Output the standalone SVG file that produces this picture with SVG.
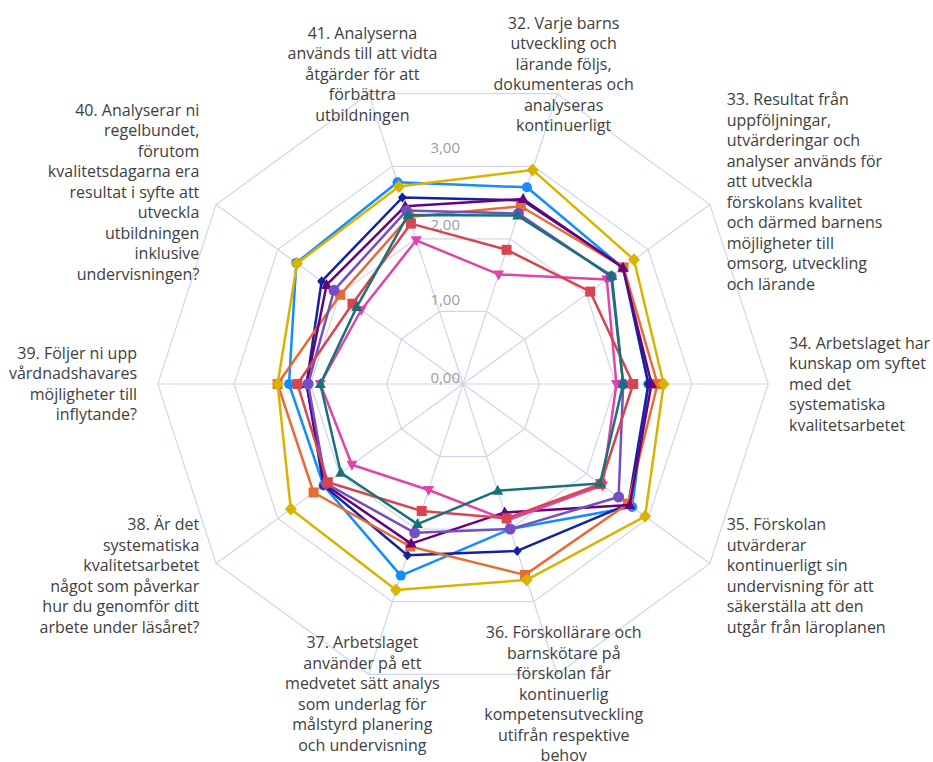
<svg xmlns="http://www.w3.org/2000/svg" width="933" height="762" viewBox="0 0 933 762">
<style>
.grid{fill:none;stroke:#cfd6ea;stroke-width:1.2}
.s{fill:none;stroke-width:2.5;stroke-linejoin:round}
.lbl{font-family:"Open Sans","Noto Sans",sans-serif;font-size:16px;fill:#3e3e3e}
.tick{font-family:"Open Sans","Noto Sans",sans-serif;font-size:15px;fill:#9c9c9c;text-anchor:end}
.mid{text-anchor:middle}.end{text-anchor:end}.start{text-anchor:start}
</style>
<defs>
<circle id="mc" r="5"/>
<circle id="mcl" r="5.5"/>
<rect id="ms" x="-5" y="-5" width="10" height="10"/>
<path id="mtu" d="M0,-6 L5.5,4 L-5.5,4Z"/>
<path id="mtd" d="M0,6 L5.5,-4 L-5.5,-4Z"/>
<path id="md" d="M0,-6.5 L6,0 L0,6.5 L-6,0Z"/>
<path id="mds" d="M0,-5 L4.5,0 L0,5 L-4.5,0Z"/>
</defs>
<rect width="933" height="762" fill="#ffffff"/>
<g id="grid">
<polygon class="grid" points="486.6,311.4 524.7,339.2 539.3,384 524.7,428.8 486.6,456.6 439.4,456.6 401.3,428.8 386.7,384 401.3,339.2 439.4,311.4"/>
<polygon class="grid" points="510.2,238.9 586.5,294.3 615.6,384 586.5,473.7 510.2,529.1 415.8,529.1 339.5,473.7 310.4,384 339.5,294.3 415.8,238.9"/>
<polygon class="grid" points="533.7,166.3 648.2,249.5 691.9,384 648.2,518.5 533.7,601.7 392.3,601.7 277.8,518.5 234.1,384 277.8,249.5 392.3,166.3"/>
<polygon class="grid" points="557.3,93.7 709.9,204.6 768.2,384 709.9,563.4 557.3,674.3 368.7,674.3 216.1,563.4 157.8,384 216.1,204.6 368.7,93.7"/>
<path class="grid" d="M463,384L557.3,93.7M463,384L709.9,204.6M463,384L768.2,384M463,384L709.9,563.4M463,384L557.3,674.3M463,384L368.7,674.3M463,384L216.1,563.4M463,384L157.8,384M463,384L216.1,204.6M463,384L368.7,93.7"/>
</g>
<g id="ticks">
<text class="tick" x="460" y="382.5">0,00</text>
<text class="tick" x="460" y="305">1,00</text>
<text class="tick" x="460" y="229.5">2,00</text>
<text class="tick" x="460" y="153">3,00</text>
</g>
<g id="series">
<g id="s-blue" fill="#118DFF">
<polygon class="s" stroke="#118DFF" points="526.9,187.3 622.9,267.8 648.4,384 632.1,506.9 510.2,529.1 400.8,575.6 323.5,485.4 289.0,384 296.3,262.9 397.5,182.3"/>
<use href="#mc" x="526.9" y="187.3"/><use href="#mc" x="622.9" y="267.8"/><use href="#mc" x="648.4" y="384"/><use href="#mc" x="632.1" y="506.9"/><use href="#mc" x="510.2" y="529.1"/><use href="#mc" x="400.8" y="575.6"/><use href="#mc" x="323.5" y="485.4"/><use href="#mc" x="289.0" y="384"/><use href="#mc" x="296.3" y="262.9"/><use href="#mc" x="397.5" y="182.3"/>
</g>
<g id="s-darkblue" fill="#12239E">
<polygon class="s" stroke="#12239E" points="522.7,200.4 623.5,267.4 648.4,384 628.4,504.2 517.2,550.9 407.4,555.3 323.5,485.4 306.6,384 321.6,281.3 402.4,197.5"/>
<use href="#mds" x="522.7" y="200.4"/><use href="#mds" x="623.5" y="267.4"/><use href="#mds" x="648.4" y="384"/><use href="#mds" x="628.4" y="504.2"/><use href="#mds" x="517.2" y="550.9"/><use href="#mds" x="407.4" y="555.3"/><use href="#mds" x="323.5" y="485.4"/><use href="#mds" x="306.6" y="384"/><use href="#mds" x="321.6" y="281.3"/><use href="#mds" x="402.4" y="197.5"/>
</g>
<g id="s-orange" fill="#E66C37">
<polygon class="s" stroke="#E66C37" points="520.8,206.2 623.5,267.4 657.6,384 627.8,503.7 525.0,574.9 410.2,546.5 313.6,492.5 277.6,384 340.2,294.8 408.8,217.1"/>
<use href="#ms" x="520.8" y="206.2"/><use href="#ms" x="623.5" y="267.4"/><use href="#ms" x="657.6" y="384"/><use href="#ms" x="627.8" y="503.7"/><use href="#ms" x="525.0" y="574.9"/><use href="#ms" x="410.2" y="546.5"/><use href="#ms" x="313.6" y="492.5"/><use href="#ms" x="277.6" y="384"/><use href="#ms" x="340.2" y="294.8"/><use href="#ms" x="408.8" y="217.1"/>
</g>
<g id="s-purple" fill="#6B007B">
<polygon class="s" stroke="#6B007B" points="523.1,199.0 622.9,267.8 651.5,384 629.7,505.1 504.7,512.4 411.1,543.6 324.7,484.5 306.6,384 326.6,284.9 405.2,206.2"/>
<use href="#mtu" x="523.1" y="199.0"/><use href="#mtu" x="622.9" y="267.8"/><use href="#mtu" x="651.5" y="384"/><use href="#mtu" x="629.7" y="505.1"/><use href="#mtu" x="504.7" y="512.4"/><use href="#mtu" x="411.1" y="543.6"/><use href="#mtu" x="324.7" y="484.5"/><use href="#mtu" x="306.6" y="384"/><use href="#mtu" x="326.6" y="284.9"/><use href="#mtu" x="405.2" y="206.2"/>
</g>
<g id="s-pink" fill="#E044A7">
<polygon class="s" stroke="#E044A7" points="498.6,274.4 606.8,279.5 616.4,384 602.5,485.4 507.3,520.4 428.6,490.0 351.9,464.7 320.3,384 361.2,310.0 416.3,240.3"/>
<use href="#mtd" x="498.6" y="274.4"/><use href="#mtd" x="606.8" y="279.5"/><use href="#mtd" x="616.4" y="384"/><use href="#mtd" x="602.5" y="485.4"/><use href="#mtd" x="507.3" y="520.4"/><use href="#mtd" x="428.6" y="490.0"/><use href="#mtd" x="351.9" y="464.7"/><use href="#mtd" x="320.3" y="384"/><use href="#mtd" x="361.2" y="310.0"/><use href="#mtd" x="416.3" y="240.3"/>
</g>
<g id="s-violet" fill="#744EC2">
<polygon class="s" stroke="#744EC2" points="518.4,213.5 611.1,276.4 623.2,384 618.6,497.0 510.2,529.1 414.7,532.8 326.0,483.6 308.1,384 334.0,290.3 406.6,210.6"/>
<use href="#mcl" x="518.4" y="213.5"/><use href="#mcl" x="611.1" y="276.4"/><use href="#mcl" x="623.2" y="384"/><use href="#mcl" x="618.6" y="497.0"/><use href="#mcl" x="510.2" y="529.1"/><use href="#mcl" x="414.7" y="532.8"/><use href="#mcl" x="326.0" y="483.6"/><use href="#mcl" x="308.1" y="384"/><use href="#mcl" x="334.0" y="290.3"/><use href="#mcl" x="406.6" y="210.6"/>
</g>
<g id="s-yellow" fill="#D9B300">
<polygon class="s" stroke="#D9B300" points="532.6,169.9 634.0,259.8 663.7,384 645.1,516.3 526.7,579.9 396.0,590.1 290.8,509.1 277.6,384 297.0,263.4 398.9,186.6"/>
<use href="#md" x="532.6" y="169.9"/><use href="#md" x="634.0" y="259.8"/><use href="#md" x="663.7" y="384"/><use href="#md" x="645.1" y="516.3"/><use href="#md" x="526.7" y="579.9"/><use href="#md" x="396.0" y="590.1"/><use href="#md" x="290.8" y="509.1"/><use href="#md" x="277.6" y="384"/><use href="#md" x="297.0" y="263.4"/><use href="#md" x="398.9" y="186.6"/>
</g>
<g id="s-red" fill="#D64550">
<polygon class="s" stroke="#D64550" points="506.6,249.8 590.2,291.6 633.2,384 600.7,484.0 506.6,518.3 421.7,511.0 327.8,482.2 297.4,384 352.5,303.7 410.9,223.6"/>
<use href="#ms" x="506.6" y="249.8"/><use href="#ms" x="590.2" y="291.6"/><use href="#ms" x="633.2" y="384"/><use href="#ms" x="600.7" y="484.0"/><use href="#ms" x="506.6" y="518.3"/><use href="#ms" x="421.7" y="511.0"/><use href="#ms" x="327.8" y="482.2"/><use href="#ms" x="297.4" y="384"/><use href="#ms" x="352.5" y="303.7"/><use href="#ms" x="410.9" y="223.6"/>
</g>
<g id="s-teal" fill="#197278">
<polygon class="s" stroke="#197278" points="517.7,215.6 611.8,275.9 623.2,384 600.0,483.6 497.7,490.7 417.5,524.1 340.8,472.8 320.3,384 356.8,306.9 408.1,214.9"/>
<use href="#mtu" x="517.7" y="215.6"/><use href="#mtu" x="611.8" y="275.9"/><use href="#mtu" x="623.2" y="384"/><use href="#mtu" x="600.0" y="483.6"/><use href="#mtu" x="497.7" y="490.7"/><use href="#mtu" x="417.5" y="524.1"/><use href="#mtu" x="340.8" y="472.8"/><use href="#mtu" x="320.3" y="384"/><use href="#mtu" x="356.8" y="306.9"/><use href="#mtu" x="408.1" y="214.9"/>
</g>
</g>
<g id="label-32"><text class="lbl mid" x="563.6">
<tspan x="563.6" y="28.5">32. Varje barns</tspan><tspan x="563.6" y="49">utveckling och</tspan><tspan x="563.6" y="69.5">lärande följs,</tspan><tspan x="563.6" y="90">dokumenteras och</tspan><tspan x="563.6" y="110.5">analyseras</tspan><tspan x="563.6" y="131">kontinuerligt</tspan></text></g>
<g id="label-33"><text class="lbl start">
<tspan x="726.7" y="105">33. Resultat från</tspan><tspan x="726.7" y="125.5">uppföljningar,</tspan><tspan x="726.7" y="146">utvärderingar och</tspan><tspan x="726.7" y="166.5">analyser används för</tspan><tspan x="726.7" y="187">att utveckla</tspan><tspan x="726.7" y="207.5">förskolans kvalitet</tspan><tspan x="726.7" y="228">och därmed barnens</tspan><tspan x="726.7" y="248.5">möjligheter till</tspan><tspan x="726.7" y="269">omsorg, utveckling</tspan><tspan x="726.7" y="289.5">och lärande</tspan></text></g>
<g id="label-34"><text class="lbl start">
<tspan x="789" y="348.5">34. Arbetslaget har</tspan><tspan x="789" y="369">kunskap om syftet</tspan><tspan x="789" y="389.5">med det</tspan><tspan x="789" y="410">systematiska</tspan><tspan x="789" y="430.5">kvalitetsarbetet</tspan></text></g>
<g id="label-35"><text class="lbl start">
<tspan x="726.7" y="530">35. Förskolan</tspan><tspan x="726.7" y="550.5">utvärderar</tspan><tspan x="726.7" y="571">kontinuerligt sin</tspan><tspan x="726.7" y="591.5">undervisning för att</tspan><tspan x="726.7" y="612">säkerställa att den</tspan><tspan x="726.7" y="632.5">utgår från läroplanen</tspan></text></g>
<g id="label-36"><text class="lbl mid">
<tspan x="563.7" y="638">36. Förskollärare och</tspan><tspan x="563.7" y="658.5">barnskötare på</tspan><tspan x="563.7" y="679">förskolan får</tspan><tspan x="563.7" y="699.5">kontinuerlig</tspan><tspan x="563.7" y="720">kompetensutveckling</tspan><tspan x="563.7" y="740.5">utifrån respektive</tspan><tspan x="563.7" y="761">behov</tspan></text></g>
<g id="label-37"><text class="lbl mid">
<tspan x="362.3" y="648.3">37. Arbetslaget</tspan><tspan x="362.3" y="668.8">använder på ett</tspan><tspan x="362.3" y="689.3">medvetet sätt analys</tspan><tspan x="362.3" y="709.8">som underlag för</tspan><tspan x="362.3" y="730.3">målstyrd planering</tspan><tspan x="362.3" y="750.8">och undervisning</tspan></text></g>
<g id="label-38"><text class="lbl end">
<tspan x="199.3" y="530">38. Är det</tspan><tspan x="199.3" y="550.5">systematiska</tspan><tspan x="199.3" y="571">kvalitetsarbetet</tspan><tspan x="199.3" y="591.5">något som påverkar</tspan><tspan x="199.3" y="612">hur du genomför ditt</tspan><tspan x="199.3" y="632.5">arbete under läsåret?</tspan></text></g>
<g id="label-39"><text class="lbl end">
<tspan x="137" y="358.8">39. Följer ni upp</tspan><tspan x="137" y="379.3">vårdnadshavares</tspan><tspan x="137" y="399.8">möjligheter till</tspan><tspan x="137" y="420.3">inflytande?</tspan></text></g>
<g id="label-40"><text class="lbl end">
<tspan x="199.3" y="115.8">40. Analyserar ni</tspan><tspan x="199.3" y="136.3">regelbundet,</tspan><tspan x="199.3" y="156.8">förutom</tspan><tspan x="199.3" y="177.3">kvalitetsdagarna era</tspan><tspan x="199.3" y="197.8">resultat i syfte att</tspan><tspan x="199.3" y="218.3">utveckla</tspan><tspan x="199.3" y="238.8">utbildningen</tspan><tspan x="199.3" y="259.3">inklusive</tspan><tspan x="199.3" y="279.8">undervisningen?</tspan></text></g>
<g id="label-41"><text class="lbl mid">
<tspan x="362.4" y="38.7">41. Analyserna</tspan><tspan x="362.4" y="59.2">används till att vidta</tspan><tspan x="362.4" y="79.7">åtgärder för att</tspan><tspan x="362.4" y="100.2">förbättra</tspan><tspan x="362.4" y="120.7">utbildningen</tspan></text></g>
</svg>
